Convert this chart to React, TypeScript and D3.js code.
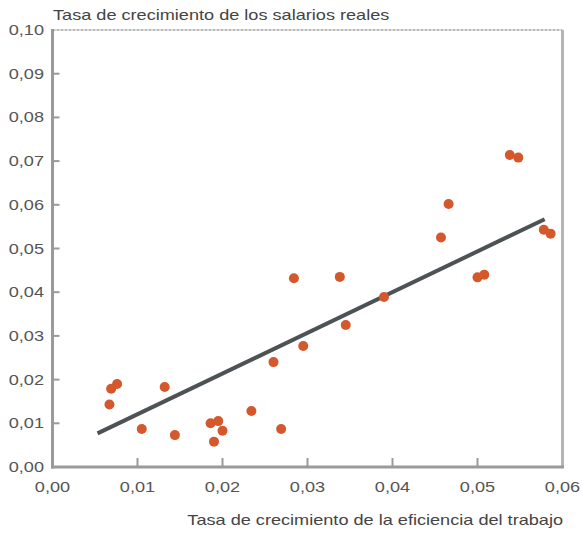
import React from "react";
import * as d3 from "d3";

// efficiency growth (x) vs real wage growth (y)
const effGrowth = [
  0.0067, 0.0069, 0.0076, 0.0105, 0.0132, 0.0144, 0.0186, 0.0195, 0.019, 0.02,
  0.0234, 0.0260, 0.0269, 0.0284, 0.0295, 0.0338, 0.0345, 0.039, 0.0457,
  0.0466, 0.0500, 0.0508, 0.0538, 0.0548, 0.0578, 0.0586,
];
const wageGrowth = [
  0.0143, 0.0179, 0.019, 0.0087, 0.0183, 0.0073, 0.0100, 0.0105, 0.0058, 0.0083,
  0.0128, 0.0240, 0.0087, 0.0432, 0.0277, 0.0435, 0.0325, 0.0389, 0.0525,
  0.0602, 0.0434, 0.0440, 0.0714, 0.0708, 0.0543, 0.0534,
];
const fitX = [0.0053, 0.0579];
const fitY = [0.0077, 0.0567];
const xTicks = [0, 0.01, 0.02, 0.03, 0.04, 0.05, 0.06];
const yTicks = [0, 0.01, 0.02, 0.03, 0.04, 0.05, 0.06, 0.07, 0.08, 0.09, 0.1];

const W = 582;
const H = 533;
const left = 52.5;
const right = 562.5;
const top = 30;
const bottom = 467;
const SX = 1.25; // the printed type is wide

const fmt = (v: number) => v.toFixed(2).replace(".", ",");

function Label(props: { x: number; y: number; anchor?: string; fill?: string; children: string }) {
  return (
    <text
      transform={`translate(${props.x},${props.y}) scale(${SX},1)`}
      textAnchor={props.anchor || "start"}
      fontSize={14.5}
      fill={props.fill || "#555"}
    >
      {props.children}
    </text>
  );
}

export default function App() {
  const x = d3.scaleLinear().domain([0, 0.06]).range([left, right]);
  const y = d3.scaleLinear().domain([0, 0.1]).range([bottom, top]);
  const pts = effGrowth.map((e, i) => ({ x: e, y: wageGrowth[i] }));
  const line = d3
    .line<number>()
    .x((d) => x(d))
    .y((_, i) => y(fitY[i]));

  const font = "'Liberation Sans', Arial, sans-serif";

  return (
    <svg
      width={W}
      height={H}
      style={{ position: "absolute", left: 0, top: 0, background: "#fff" }}
      fontFamily={font}
    >
      {/* frame */}
      <line x1={left} x2={right} y1={top} y2={top} stroke="#bbb" strokeWidth={2} strokeDasharray="3 1" />
      <line x1={right} x2={right} y1={top} y2={bottom} stroke="#b5b5b5" strokeWidth={3} />
      <line x1={left} x2={left} y1={top - 1} y2={bottom + 1.5} stroke="#9a9a9a" strokeWidth={3} />
      <line x1={left - 1.5} x2={right + 1.5} y1={bottom} y2={bottom} stroke="#9a9a9a" strokeWidth={3} />

      {yTicks.map((t) => (
        <g key={"y" + t}>
          {t > 0 && t < 0.1 && (
            <line x1={left} x2={left + 7} y1={y(t)} y2={y(t)} stroke="#9a9a9a" strokeWidth={2} />
          )}
          <Label x={44} y={y(t) + 5} anchor="end">
            {fmt(t)}
          </Label>
        </g>
      ))}
      {xTicks.map((t) => (
        <g key={"x" + t}>
          {t > 0 && t < 0.06 && (
            <line x1={x(t)} x2={x(t)} y1={bottom} y2={bottom - 9} stroke="#9a9a9a" strokeWidth={2} />
          )}
          <Label x={x(t)} y={492} anchor="middle">
            {fmt(t)}
          </Label>
        </g>
      ))}

      <path d={line(fitX) || ""} stroke="#4d5254" strokeWidth={4} fill="none" />

      {pts.map((p, i) => (
        <circle key={i} cx={x(p.x)} cy={y(p.y)} r={5} fill="#d4582c" />
      ))}

      <Label x={53} y={20} fill="#444">
        Tasa de crecimiento de los salarios reales
      </Label>
      <Label x={563} y={525} anchor="end" fill="#444">
        Tasa de crecimiento de la eficiencia del trabajo
      </Label>
    </svg>
  );
}
